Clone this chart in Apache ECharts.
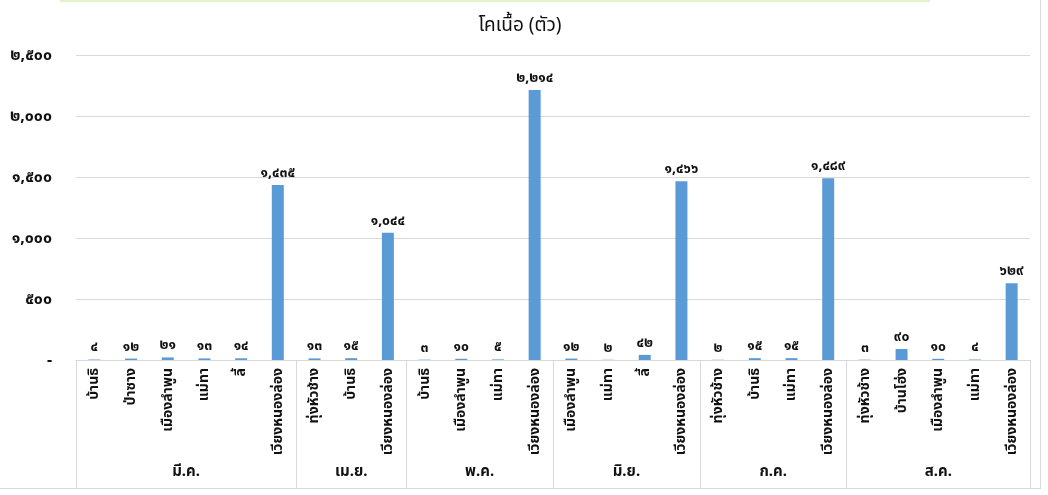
<!DOCTYPE html>
<html><head><meta charset="utf-8">
<script src="https://cdn.jsdelivr.net/npm/echarts@6/dist/echarts.min.js"></script>
<style>
html,body{margin:0;padding:0;background:#fff;}
#wrap{position:absolute;left:0;top:0;width:1040px;height:488px;border-right:1px solid #d9d9d9;border-bottom:1px solid #d9d9d9;}
#topline{position:absolute;left:60px;top:0;width:870px;height:2px;background:#e4f2cc;}
#chart{width:1040px;height:488px;}
</style></head>
<body>
<div id="wrap"><div id="topline"></div><div id="chart"></div></div>
<script>
const titleText = 'โคเนื้อ (ตัว)';
const groupNames = ['มี.ค.', 'เม.ย.', 'พ.ค.', 'มิ.ย.', 'ก.ค.', 'ส.ค.'];
const groupSizes = [6, 3, 4, 4, 4, 5];
const districts = [
  'บ้านธิ', 'ป่าซาง', 'เมืองลำพูน', 'แม่ทา', 'ลี้', 'เวียงหนองล่อง',
  'ทุ่งหัวช้าง', 'บ้านธิ', 'เวียงหนองล่อง',
  'บ้านธิ', 'เมืองลำพูน', 'แม่ทา', 'เวียงหนองล่อง',
  'เมืองลำพูน', 'แม่ทา', 'ลี้', 'เวียงหนองล่อง',
  'ทุ่งหัวช้าง', 'บ้านธิ', 'แม่ทา', 'เวียงหนองล่อง',
  'ทุ่งหัวช้าง', 'บ้านโฮ่ง', 'เมืองลำพูน', 'แม่ทา', 'เวียงหนองล่อง'
];
const values = [
  4, 12, 21, 13, 14, 1435,
  13, 15, 1044,
  3, 10, 5, 2214,
  12, 2, 42, 1466,
  2, 15, 15, 1489,
  3, 90, 10, 4, 629
];
const yMin = 0, yMax = 2500, yStep = 500;

const thaiDigits = '๐๑๒๓๔๕๖๗๘๙';
function toThai(n) {
  const s = Number(n).toLocaleString('en-US');
  return s.replace(/[0-9]/g, d => thaiDigits[+d]);
}

// Half-step positions for the month layer: 2 per category, points on edges
const total = groupSizes.reduce((a, b) => a + b, 0);
const halfData = [];
const boundaryIdx = new Set();
const centerLabel = {};
let start = 0;
boundaryIdx.add(0);
groupSizes.forEach((n, gi) => {
  centerLabel[2 * start + n] = groupNames[gi];
  start += n;
  boundaryIdx.add(2 * start);
});
for (let k = 0; k <= 2 * total; k++) halfData.push(centerLabel[k] || ('_' + k));

const FONT = '"Noto Sans", "Noto Sans Thai", Tahoma, sans-serif';
const chart = echarts.init(document.getElementById('chart'), null, {renderer: 'canvas'});
chart.setOption({
  animation: false,
  textStyle: {fontFamily: FONT},
  title: {
    text: titleText, left: 'center', top: 11,
    textStyle: {fontSize: 19, fontWeight: 'normal', color: '#111', fontFamily: FONT}
  },
  grid: {left: 76, right: 10, top: 55, bottom: 128},
  xAxis: [
    {
      type: 'category', data: districts, position: 'bottom',
      axisLine: {show: true, lineStyle: {color: '#d9d9d9'}},
      axisTick: {show: false},
      axisLabel: {rotate: 90, interval: 0, fontSize: 14, color: '#111', margin: 8, fontWeight: 'bold'}
    },
    {
      type: 'category', data: halfData, position: 'bottom', boundaryGap: false,
      axisLine: {show: false},
      axisTick: {show: true, length: 128, lineStyle: {color: '#d9d9d9'},
        interval: (i) => boundaryIdx.has(i)},
      axisLabel: {show: true, margin: 104, fontSize: 15, color: '#111', fontWeight: 'bold',
        interval: (i) => centerLabel[i] !== undefined,
        formatter: (v) => v.charAt(0) === '_' ? '' : v}
    }
  ],
  yAxis: {
    type: 'value', min: yMin, max: yMax, interval: yStep,
    axisLine: {show: false}, axisTick: {show: false},
    splitLine: {lineStyle: {color: '#d9d9d9'}},
    axisLabel: {fontSize: 16, color: '#111', fontWeight: 'bold', margin: 24,
      formatter: (v) => v === 0 ? '-' : toThai(v)}
  },
  series: [{
    type: 'bar', data: values, xAxisIndex: 0, barWidth: 12,
    itemStyle: {color: '#5b9bd5'},
    label: {show: true, position: 'top', distance: 5, fontSize: 14, color: '#111', fontWeight: 'bold',
      formatter: (p) => toThai(p.value)}
  }]
});
</script>
</body></html>
